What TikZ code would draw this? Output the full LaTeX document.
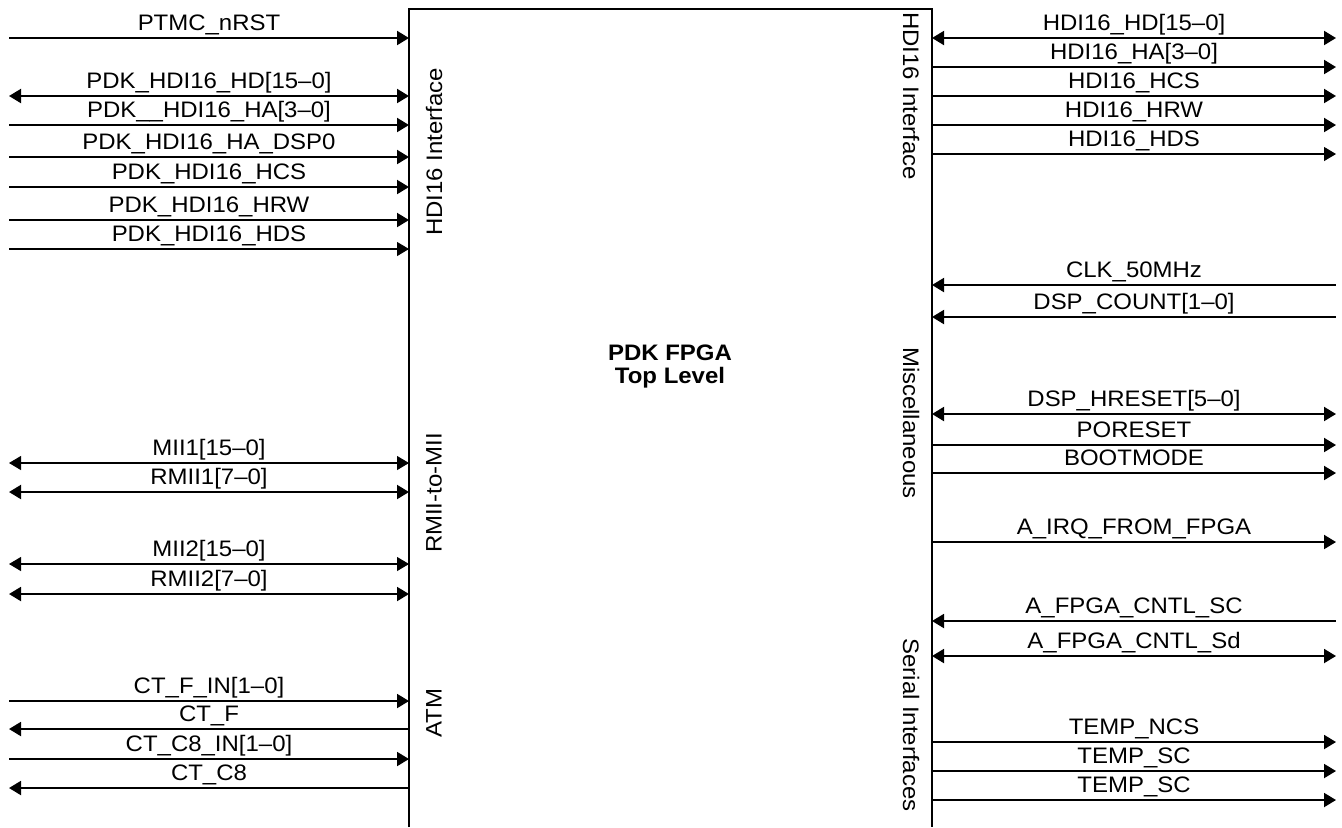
\documentclass[tikz,border=0pt]{standalone}
\usepackage{fontspec}
\setmainfont[FakeStretch=1.07]{Liberation Sans}
\usetikzlibrary{arrows.meta}
\newcommand\sigfont{\fontsize{11.2}{11.5}\selectfont}

\begin{document}
\begin{tikzpicture}[x=.5pt,y=-.5pt,
  >={Triangle[length=6pt,width=7pt]},
  box/.style={line width=1pt},
  sig/.style={line width=#1},
  lbl/.style={font=\sigfont,above=1.5pt,inner sep=0pt,text height=8.5pt,text depth=2pt},
  grp/.style={font=\sigfont,inner sep=0pt}]
\useasboundingbox (0,0) rectangle (1342,827);
% Baustein, unten offen
\coordinate (bl) at (409,827); \coordinate (tl) at (409,9);
\coordinate (tr) at (932,9); \coordinate (br) at (932,827);
\draw[box] (bl)--(tl)--(tr)--(br);
\node[font=\sigfont\bfseries,align=center] (fpga) at (670,366){PDK FPGA\\Top Level};
% Gruppen an den Seiten
\node[grp,rotate=90] (hdil) at (434,152){HDI16 Interface};
\node[grp,rotate=90] (rmii) at (434,493){RMII-to-MII};
\node[grp,rotate=90] (atm) at (434,713){ATM};
\node[grp,rotate=-90] (hdir) at (911,96){HDI16 Interface};
\node[grp,rotate=-90] (misc) at (911,423){Miscellaneous};
\node[grp,rotate=-90] (seri) at (911,725){Serial Interfaces};
% Signale links: 1 = hinein, 2 = heraus, 3 = beidseitig
\foreach \n/\y/\t/\d/\w in {ptmc/38/{PTMC\_nRST}/1/1pt,
  lhd/96/{PDK\_HDI16\_HD[15--0]}/3/1pt,lha/125/{PDK\_\_HDI16\_HA[3--0]}/1/1pt,
  ldsp/157/{PDK\_HDI16\_HA\_DSP0}/1/1pt,lhcs/187/{PDK\_HDI16\_HCS}/1/1pt,
  lhrw/220/{PDK\_HDI16\_HRW}/1/1pt,lhds/249/{PDK\_HDI16\_HDS}/1/.55pt,
  mii1/463/{MII1[15--0]}/3/.55pt,rmii1/492/{RMII1[7--0]}/3/1pt,
  mii2/564/{MII2[15--0]}/3/.55pt,rmii2/594/{RMII2[7--0]}/3/1pt,
  ctfin/701/{CT\_F\_IN[1--0]}/1/1pt,ctf/729/{CT\_F}/2/1pt,
  ctcin/759/{CT\_C8\_IN[1--0]}/1/1pt,ctc/788/{CT\_C8}/2/1pt}{
 \coordinate (\n-l) at (9,\y); \coordinate (\n-r) at (409,\y);
 \ifnum\d=1
  \draw[->,sig=\w] (\n-l)--(\n-r) node[midway,lbl]{\t};
 \else\ifnum\d=2
  \draw[<-,sig=\w] (\n-l)--(\n-r) node[midway,lbl]{\t};
 \else
  \draw[<->,sig=\w] (\n-l)--(\n-r) node[midway,lbl]{\t};
 \fi\fi
}
% Signale rechts: 1 = heraus, 2 = hinein, 3 = beidseitig
\foreach \n/\y/\t/\d/\w in {hd/38/{HDI16\_HD[15--0]}/3/1pt,
  ha/67/{HDI16\_HA[3--0]}/1/1pt,hcs/96/{HDI16\_HCS}/1/1pt,
  hrw/125/{HDI16\_HRW}/1/1pt,hds/154/{HDI16\_HDS}/1/.55pt,
  clk/285/{CLK\_50MHz}/2/1pt,cnt/317/{DSP\_COUNT[1--0]}/2/1pt,
  hrst/414/{DSP\_HRESET[5--0]}/3/1pt,por/445/{PORESET}/1/1pt,
  boot/473/{BOOTMODE}/1/1pt,irq/542/{A\_IRQ\_FROM\_FPGA}/1/1pt,
  fsc/621/{A\_FPGA\_CNTL\_SC}/2/1pt,fsd/656/{A\_FPGA\_CNTL\_Sd}/3/1pt,
  tncs/742/{TEMP\_NCS}/1/1pt,tsc/771/{TEMP\_SC}/1/1pt,tsck/800/{TEMP\_SC}/1/1pt}{
 \coordinate (\n-l) at (932,\y); \coordinate (\n-r) at (1336,\y);
 \ifnum\d=1
  \draw[->,sig=\w] (\n-l)--(\n-r) node[midway,lbl]{\t};
 \else\ifnum\d=2
  \draw[<-,sig=\w] (\n-l)--(\n-r) node[midway,lbl]{\t};
 \else
  \draw[<->,sig=\w] (\n-l)--(\n-r) node[midway,lbl]{\t};
 \fi\fi
}
\end{tikzpicture}
\end{document}
